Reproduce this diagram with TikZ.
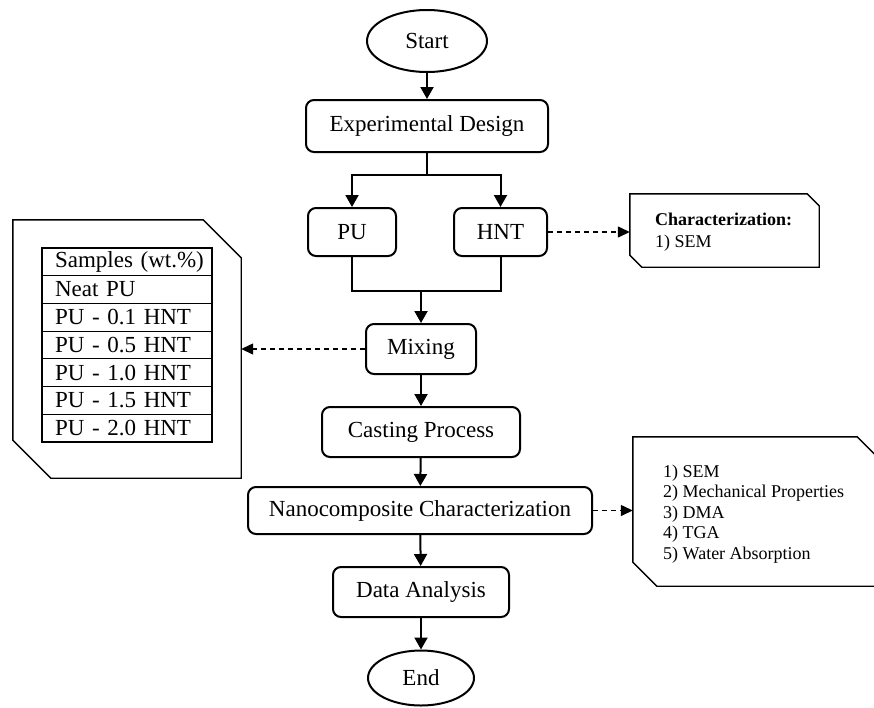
\documentclass[tikz,border=0pt]{standalone}
\usepackage{fontspec}
\setmainfont{Liberation Serif}
\usetikzlibrary{arrows.meta,shapes.geometric}
\tikzset{
  process/.style={draw,line width=2pt,rounded corners=8pt,inner sep=0pt,
    font=\fontsize{23}{27}\selectfont},
  terminal/.style={ellipse,draw,line width=2pt,inner sep=0pt,
    font=\fontsize{23}{27}\selectfont},
  flow/.style={line width=2pt,-{Triangle[length=12pt,width=13pt]}},
  link/.style={line width=1.3pt,dash pattern=on 5pt off 4pt,
    -{Triangle[length=12pt,width=11pt]}},
  frame/.style={draw,line width=1.4pt},
  cell/.style={draw,line width=1.2pt,minimum width=170,minimum height=27.7,
    text width=144,align=left,inner sep=0pt,font=\fontsize{23}{27}\selectfont},
  note/.style={anchor=west,align=left,inner sep=0pt},
}
% outline with two cut corners round an empty node
\newcommand\cutframe[2]{%
  \draw[frame] (#1.north west) -- ([xshift=-#2]#1.north east)
    -- ([yshift=-#2]#1.north east) -- (#1.south east)
    -- ([xshift=#2]#1.south west) -- ([yshift=#2]#1.south west) -- cycle;}
\begin{document}
\begin{tikzpicture}[x=1pt,y=-1pt]
\useasboundingbox (0,0) rectangle (874,707);
\clip (0,0) rectangle (874,707);
% main flow
\node[terminal,minimum width=120,minimum height=62] (start) at (427,41) {Start};
\node[process,minimum width=242,minimum height=52] (design) at (427,126) {Experimental Design};
\node[process,minimum width=88,minimum height=48] (pu) at (352,232) {PU};
\node[process,minimum width=93,minimum height=48] (hnt) at (500.5,232) {HNT};
\node[process,minimum width=110,minimum height=50] (mixing) at (421,349) {Mixing};
\node[process,minimum width=198,minimum height=50] (casting) at (421,432) {Casting Process};
\node[process,minimum width=344,minimum height=47] (nano) at (420,510.5) {Nanocomposite Characterization};
\node[process,minimum width=176,minimum height=50] (analysis) at (421,592) {Data Analysis};
\node[terminal,minimum width=106,minimum height=55] (finish) at (421,678) {End};

\draw[flow] (start) -- (design);
\coordinate (split) at (427,175);
\draw[line width=2pt] (design) -- (split);
\draw[flow] (split) -| (pu);
\draw[flow] (split) -| (hnt);
\coordinate (merge) at (421,291);
\draw[line width=2pt] (pu) |- (merge) -| (hnt);
\draw[flow] (merge) -- (mixing);
\draw[flow] (mixing) -- (casting);
\draw[flow] (casting) -- (nano);
\draw[flow] (nano) -- (analysis);
\draw[flow] (analysis) -- (finish);

% side notes
\node[minimum width=189,minimum height=73,inner sep=0pt] (charbox) at (724.5,230.5) {};
\cutframe{charbox}{12pt}
\node[note,font=\fontsize{18}{22}\selectfont] (chartext) at (655,232)
  {\textbf{Characterization:}\\1) SEM};

\node[minimum width=228,minimum height=258,inner sep=0pt] (samplebox) at (127,349) {};
\cutframe{samplebox}{38pt}
\foreach \i/\txt in {1/Samples (wt.\%),2/Neat PU,3/PU - 0.1 HNT,4/PU - 0.5 HNT,
  5/PU - 1.0 HNT,6/PU - 1.5 HNT,7/PU - 2.0 HNT}
  \node[cell] (row\i) at (127,{234.15+27.7*\i}) {\mbox{\txt}};

\node[minimum width=248,minimum height=149,inner sep=0pt] (propbox) at (757,511.5) {};
\cutframe{propbox}{24pt}
\node[note,font=\fontsize{18}{20.5}\selectfont] (proptext) at (663,514)
  {1) SEM\\2) Mechanical Properties\\3) DMA\\4) TGA\\5) Water Absorption};

\draw[link] (hnt.east) -- (hnt.east -| charbox.west);
\draw[link] (mixing.west) -- (mixing.west -| samplebox.east);
\draw[link] (nano.east) -- (nano.east -| propbox.west);
\end{tikzpicture}
\end{document}
